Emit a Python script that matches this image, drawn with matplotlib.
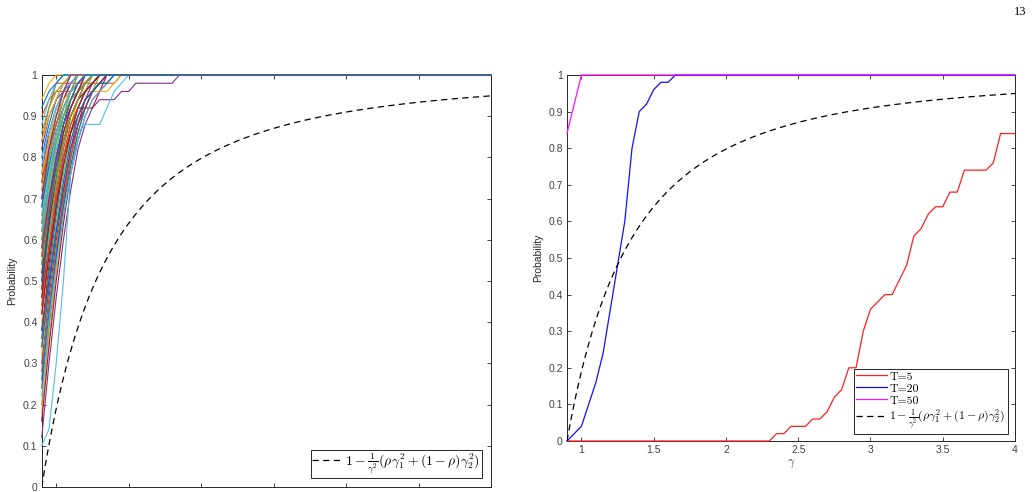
import numpy as np
import matplotlib
matplotlib.use('Agg')
import matplotlib.pyplot as plt

plt.rcParams['mathtext.fontset'] = 'cm'
plt.rcParams['font.family'] = ['Liberation Sans', 'DejaVu Sans']

# gamma grid used by the simulations (step 0.05 from 0.9 to 4)
gamma = np.round(np.arange(0.9, 4.0001, 0.05), 2)

# right plot: empirical probabilities for each T
p_T5 = [0.0] * 29 + [0.02, 0.02, 0.04, 0.04, 0.04, 0.06, 0.06, 0.08, 0.12, 0.14,
                     0.20, 0.20, 0.30, 0.36, 0.38, 0.40, 0.40, 0.44, 0.48, 0.56,
                     0.58, 0.62, 0.64, 0.64, 0.68, 0.68, 0.74, 0.74, 0.74, 0.74,
                     0.76, 0.84, 0.84, 0.84]
p_T20 = [0.0, 0.02, 0.04, 0.10, 0.16, 0.24, 0.36, 0.48, 0.60, 0.80, 0.90, 0.92,
         0.96, 0.98, 0.98]
p_T50 = [0.84, 0.92]

# theoretical bound: rho*g1^2 + (1-rho)*g2^2
bound_const = 0.81

# left plot: one curve per realisation, values from gamma=0.9 until they reach 1
runs = [
    [0.46, 0.62, 0.74, 0.84, 0.90, 0.94, 0.98],
    [0.90, 0.94, 0.96, 0.96, 0.96, 0.98],
    [0.94, 0.98],
    [0.12, 0.30, 0.46, 0.60, 0.72, 0.82, 0.88, 0.92, 0.94, 0.94, 0.94, 0.96,
     0.96, 0.98, 0.98, 0.98, 0.98, 0.98, 0.98],
    [0.60, 0.72, 0.82, 0.90, 0.96, 0.98],
    [0.10, 0.14, 0.30, 0.50, 0.76, 0.86, 0.88, 0.88, 0.88, 0.92, 0.96, 0.98],
    [0.38, 0.54, 0.68, 0.80, 0.88, 0.92, 0.92, 0.92, 0.96],

    [0.72, 0.82, 0.90, 0.94, 0.98],
    [0.84, 0.92, 0.98, 0.98, 0.98, 0.98, 0.98, 0.98, 0.98, 0.98, 0.98],
    [0.40, 0.56, 0.70, 0.80, 0.88, 0.94, 0.96, 0.96, 0.96, 0.96, 0.98],
    [0.30, 0.46, 0.60, 0.72, 0.82, 0.90, 0.94, 0.98],
    [0.20, 0.38, 0.54, 0.68, 0.80, 0.88, 0.92, 0.96],
    [0.78, 0.86, 0.92, 0.96, 0.98],
    [0.24, 0.40, 0.56, 0.70, 0.80, 0.88, 0.94, 0.96, 0.98],

    [0.56, 0.70, 0.80, 0.88, 0.94, 0.98],
    [0.28, 0.44, 0.58, 0.70, 0.80, 0.88, 0.92, 0.96, 0.98],
    [0.66, 0.78, 0.86, 0.92, 0.96, 0.98],
    [0.50, 0.64, 0.76, 0.86, 0.92, 0.96],
    [0.86, 0.92, 0.96, 0.98],
    [0.44, 0.60, 0.72, 0.82, 0.90, 0.94, 0.96, 0.98],
    [0.70, 0.80, 0.88, 0.94, 0.98],

    [0.36, 0.52, 0.66, 0.78, 0.86, 0.92, 0.96, 0.98],
    [0.62, 0.74, 0.84, 0.90, 0.94, 0.98],
    [0.18, 0.36, 0.52, 0.66, 0.78, 0.86, 0.92, 0.96, 0.98],
    [0.76, 0.86, 0.92, 0.96],
    [0.48, 0.62, 0.74, 0.84, 0.92, 0.96, 0.98],
    [0.58, 0.72, 0.82, 0.90, 0.94, 0.96, 0.98],
    [0.16, 0.34, 0.50, 0.64, 0.76, 0.84, 0.90, 0.94, 0.96, 0.98],

    [0.80, 0.88, 0.94, 0.98],
    [0.42, 0.58, 0.72, 0.82, 0.90, 0.94, 0.98],
    [0.52, 0.66, 0.78, 0.86, 0.92, 0.96, 0.98],
    [0.64, 0.76, 0.86, 0.92, 0.96],
    [0.34, 0.50, 0.64, 0.76, 0.86, 0.92, 0.96],
    [0.88, 0.94, 0.98],
    [0.54, 0.68, 0.80, 0.88, 0.94, 0.96, 0.98],

    [0.26, 0.42, 0.56, 0.68, 0.78, 0.86, 0.92, 0.96, 0.98],
    [0.74, 0.84, 0.90, 0.96, 0.98],
    [0.32, 0.48, 0.62, 0.74, 0.84, 0.90, 0.94, 0.96, 0.98],
    [0.82, 0.90, 0.94, 0.96, 0.98],
    [0.68, 0.80, 0.88, 0.94, 0.96, 0.98],
    [0.22, 0.40, 0.54, 0.66, 0.76, 0.84, 0.90, 0.94, 0.96, 0.98],
    [0.46, 0.58, 0.70, 0.80, 0.86, 0.90, 0.94, 0.96, 0.98],

    [0.92, 0.96, 0.98],
    [0.44, 0.58, 0.70, 0.80, 0.88, 0.92, 0.96, 0.98],
    [0.72, 0.84, 0.92, 0.96],
    [0.38, 0.50, 0.62, 0.72, 0.82, 0.88, 0.92, 0.96, 0.98],
    [0.60, 0.74, 0.84, 0.92, 0.96],
    [0.66, 0.76, 0.84, 0.90, 0.94, 0.96, 0.98],
    [0.52, 0.64, 0.76, 0.84, 0.90, 0.94, 0.96, 0.98],

    [0.34, 0.48, 0.62, 0.74, 0.84, 0.90, 0.94, 0.96, 0.98, 0.98],
    [0.56, 0.68, 0.78, 0.86, 0.92, 0.96, 0.98],
    [0.76, 0.84, 0.90, 0.94, 0.96, 0.98],
    [0.58, 0.70, 0.80, 0.88, 0.92, 0.96, 0.98],
    [0.64, 0.74, 0.84, 0.90, 0.94, 0.96, 0.98],
    [0.80, 0.86, 0.92, 0.96, 0.98],
    [0.48, 0.64, 0.76, 0.86, 0.92, 0.96],

    [0.68, 0.78, 0.86, 0.92, 0.96, 0.98],
    [0.74, 0.82, 0.88, 0.92, 0.96, 0.98],
    [0.84, 0.90, 0.94, 0.98],
    [0.70, 0.82, 0.90, 0.96],
    [0.54, 0.66, 0.76, 0.84, 0.90, 0.94, 0.98],
    [0.62, 0.76, 0.86, 0.92, 0.96, 0.98],
    [0.42, 0.56, 0.68, 0.78, 0.86, 0.92, 0.96, 0.98],

    [0.50, 0.66, 0.78, 0.88, 0.94, 0.98],
]

matlab_colors = ['#0072BD', '#D95319', '#EDB120', '#7E2F8E', '#77AC30',
                 '#4DBEEE', '#A2142F']


def pad(vals, fill):
    return np.array(list(vals) + [fill] * (len(gamma) - len(vals)))


def style_axes(ax):
    ax.set_xlim(0.9, 4)
    ax.set_ylim(0, 1)
    ax.set_xticks([1, 1.5, 2, 2.5, 3, 3.5, 4])
    ax.set_yticks(np.round(np.arange(0, 1.01, 0.1), 1))
    ax.set_yticklabels(['0', '0.1', '0.2', '0.3', '0.4', '0.5', '0.6', '0.7',
                        '0.8', '0.9', '1'])
    ax.tick_params(direction='in', length=3, width=0.6, top=True, right=True,
                   labelsize=7.5, colors='#262626', labelcolor='#404040', pad=3)
    for s in ax.spines.values():
        s.set_linewidth(0.7)
        s.set_color('#262626')
    ax.set_ylabel('Probability', fontsize=7.5, color='#262626')


fig = plt.figure(figsize=(10.35, 4.92), dpi=100)
ax1 = fig.add_axes([0.0403, 0.0102, 0.4341, 0.8374])
ax2 = fig.add_axes([0.5478, 0.1037, 0.4329, 0.7439])

g_fine = np.linspace(0.9, 4, 400)
bound = 1 - bound_const / g_fine**2
label_bound = r'$1-\frac{1}{\gamma^2}(\rho\gamma_1^2+(1-\rho)\gamma_2^2)$'

# left panel
for i, r in enumerate(runs):
    ax1.plot(gamma, pad(r, 1.0), color=matlab_colors[i % 7], lw=0.8,
             zorder=3, clip_on=False)
ax1.plot(g_fine, bound, 'k--', lw=0.9, dashes=(5, 3.5), label=label_bound,
         zorder=3)
style_axes(ax1)
ax1.set_xticklabels([])
ax1.yaxis.labelpad = 4
leg1 = ax1.legend(loc='lower right', bbox_to_anchor=(0.98, 0.022),
                  borderaxespad=0, fancybox=False, framealpha=1,
                  edgecolor='#262626', prop={'family': 'cmr10', 'size': 9.9},
                  handlelength=2.2, borderpad=0.12, handletextpad=0.2)
leg1.get_frame().set_linewidth(0.7)
leg1.set_zorder(5)

# right panel
ax2.plot(gamma, pad(p_T5, 1.0), color='#FF2020', lw=0.9, label='T=5',
         zorder=3, clip_on=False)
ax2.plot(gamma, pad(p_T20, 1.0), color='#1010FF', lw=0.9, label='T=20',
         zorder=3, clip_on=False)
ax2.plot(gamma, pad(p_T50, 1.0), color='#FF10FF', lw=0.9, label='T=50',
         zorder=3, clip_on=False)
ax2.plot(g_fine, bound, 'k--', lw=0.9, dashes=(5, 3.5), label=label_bound,
         zorder=3)
style_axes(ax2)
ax2.set_xticklabels(['1', '1.5', '2', '2.5', '3', '3.5', '4'])
ax2.set_xlabel(r'$\gamma$', fontsize=9, color='#404040', labelpad=2)
leg2 = ax2.legend(loc='lower right', bbox_to_anchor=(0.984, 0.019),
                  borderaxespad=0, fancybox=False, framealpha=1,
                  edgecolor='#262626', prop={'family': 'cmr10', 'size': 8.5},
                  handlelength=2.6, borderpad=0.2, handletextpad=0.2,
                  labelspacing=0.15)
leg2.get_frame().set_linewidth(0.7)
leg2.set_zorder(5)

fig.text(0.9855, 0.975, '13', ha='center', va='center', fontsize=9,
         family='Liberation Serif')

fig.savefig('out.png', dpi=100)
